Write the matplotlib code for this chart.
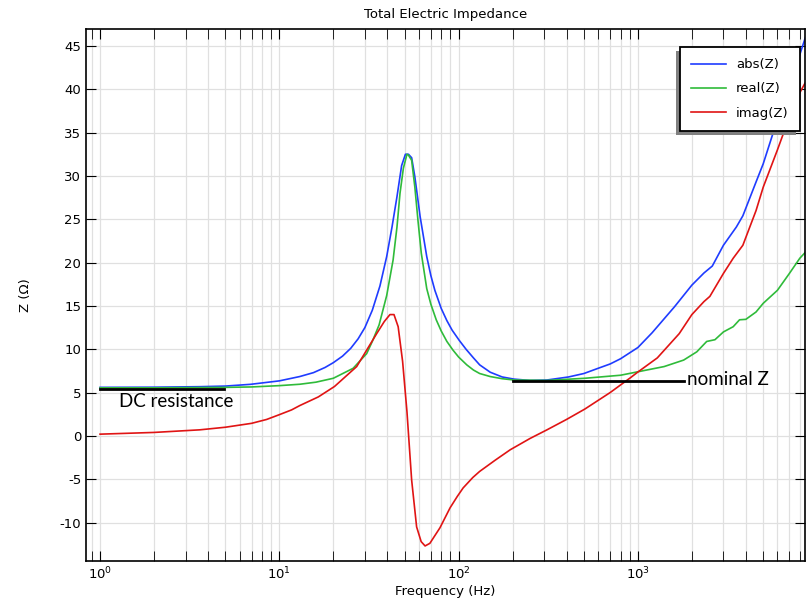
import matplotlib
matplotlib.use("Agg")
import matplotlib.pyplot as plt
from matplotlib.patches import Rectangle
from matplotlib.transforms import IdentityTransform
import numpy as np

plt.rcParams["axes.unicode_minus"] = False

# values
f_abs = [1, 2, 3.6, 5, 6.9, 10, 13, 15.5, 18, 20, 22.5, 25, 27.5, 30, 33, 36.4, 39.7, 42.5, 45.3,
         48.1, 50.5, 52.5, 54.7, 57, 61, 66.4, 70, 73.7, 80, 86, 92, 101, 110, 121, 131, 150, 175,
         204, 250, 311, 410, 500, 600, 700, 800, 1000, 1200, 1600, 2000, 2336, 2600, 3000, 3540,
         3850, 4560, 5000, 6000, 7000, 8000, 8600]
z_abs = [5.6, 5.62, 5.68, 5.75, 5.95, 6.35, 6.85, 7.3, 7.9, 8.45, 9.2, 10.1, 11.2, 12.5, 14.5, 17.3,
         20.7, 24.1, 27.6, 31.2, 32.5, 32.5, 32.1, 29.9, 25.3, 20.7, 18.5, 16.8, 14.7, 13.3, 12.2,
         11.0, 10.0, 9.0, 8.2, 7.35, 6.8, 6.55, 6.4, 6.45, 6.8, 7.2, 7.8, 8.3, 8.9, 10.2, 11.9, 14.9,
         17.4, 18.8, 19.6, 22.0, 24.1, 25.4, 29.3, 31.4, 36.5, 40.5, 44.0, 46.0]

f_real = [1, 2, 5, 7, 10, 13, 16, 20, 25.8, 30.7, 33, 36, 39.7, 43.1, 45.3, 47.1, 49.2, 51.5, 52.5,
          54.7, 57, 59.3, 61.9, 66.4, 70, 75, 80, 86, 93, 100, 111, 121, 131, 150, 175, 204, 311,
          506, 800, 1000, 1400, 1800, 2130, 2420, 2690, 3000, 3400, 3690, 4000, 4560, 5000, 6000,
          7000, 8000, 8600]
z_real = [5.55, 5.55, 5.6, 5.65, 5.8, 5.96, 6.2, 6.65, 7.8, 9.5, 10.9, 12.8, 16.2, 20.3, 24.1, 28.0,
          30.9, 32.5, 32.4, 31.8, 28.7, 24.9, 21.1, 17.0, 15.2, 13.4, 12.1, 10.9, 9.9, 9.1, 8.2,
          7.6, 7.2, 6.85, 6.6, 6.45, 6.4, 6.65, 7.0, 7.4, 8.0, 8.75, 9.7, 10.9, 11.1, 12.0, 12.6,
          13.4, 13.45, 14.3, 15.3, 16.8, 18.75, 20.5, 21.2]

f_imag = [1, 2, 3.6, 5, 7, 8.5, 10, 11.7, 13, 16.5, 20.3, 27, 34.9, 36.4, 38.5, 41.4, 43.6, 46,
          48.7, 51.5, 54.7, 58.3, 61.8, 65, 69.1, 78.7, 89.6, 98.2, 106, 120, 131, 160, 194, 250,
          311, 400, 506, 700, 900, 1004, 1283, 1700, 2000, 2336, 2520, 3000, 3400, 3850, 4560, 5000,
          6000, 7000, 8000, 8600]
z_imag = [0.2, 0.4, 0.7, 1.0, 1.45, 1.9, 2.45, 3.0, 3.5, 4.5, 5.7, 8.0, 11.8, 12.4, 13.2, 14.0,
          14.0, 12.6, 8.6, 2.8, -5.1, -10.5, -12.2, -12.7, -12.4, -10.6, -8.3, -7.0, -6.0, -4.8,
          -4.1, -2.8, -1.6, -0.3, 0.7, 1.9, 3.1, 5.0, 6.65, 7.4, 9.0, 11.8, 14.0, 15.5, 16.1, 18.75,
          20.5, 22.0, 26.0, 28.7, 33.0, 36.8, 39.6, 40.8]

dc_range = [1, 4.9]
dc_value = 5.4
nominal_range = [200, 1800]
nominal_value = 6.35

fig = plt.figure(figsize=(8.07, 5.98), dpi=100)
ax = fig.add_axes([0.1066, 0.0624, 0.8909, 0.8883])

ax.semilogx(f_abs, z_abs, color="#1f3cff", lw=1.2, label="abs(Z)")
ax.semilogx(f_real, z_real, color="#2fbb3a", lw=1.2, label="real(Z)")
ax.semilogx(f_imag, z_imag, color="#e01414", lw=1.2, label="imag(Z)")

# reference lines with their labels
ax.plot(dc_range, [dc_value, dc_value], color="black", lw=2)
ax.text(1.27, 4.0, "DC resistance", fontsize=13.5, family="Lato", va="center")
ax.plot(nominal_range, [nominal_value, nominal_value], color="black", lw=2)
ax.text(1880, 6.5, "nominal Z", fontsize=13.5, family="Lato", va="center")

ax.set_xlim(0.835, 8550)
ax.set_ylim(-14.4, 46.9)
ax.set_yticks(np.arange(-10, 46, 5))
ax.grid(True, which="both", axis="x", color="#e0e0e0", lw=0.9)
ax.grid(True, which="major", axis="y", color="#e0e0e0", lw=0.9)
ax.set_axisbelow(True)
ax.tick_params(which="both", direction="in", top=True, right=True, labelsize=9.5, length=7)
for s in ax.spines.values():
    s.set_linewidth(1.2)

ax.set_title("Total Electric Impedance", fontsize=9.5, pad=8)
ax.set_xlabel("Frequency (Hz)", fontsize=9.5, labelpad=2)
ax.set_ylabel("Z (\u03a9)", fontsize=9.5, labelpad=20)

leg = ax.legend(loc="upper right", bbox_to_anchor=(0.993, 0.967), borderaxespad=0,
                fancybox=False, edgecolor="black", framealpha=1, fontsize=9.5,
                handlelength=2.6, labelspacing=0.85, borderpad=0.85)
leg.get_frame().set_linewidth(1.3)

# gray drop shadow down and to the left of the legend box
fig.canvas.draw()
bb = leg.get_window_extent()
shadow = Rectangle((bb.x0 - 4, bb.y0 - 4), bb.width, bb.height, transform=IdentityTransform(),
                   facecolor="#808080", edgecolor="none", zorder=4.9, clip_on=False)
ax.add_patch(shadow)

fig.savefig("out.png", dpi=100)
